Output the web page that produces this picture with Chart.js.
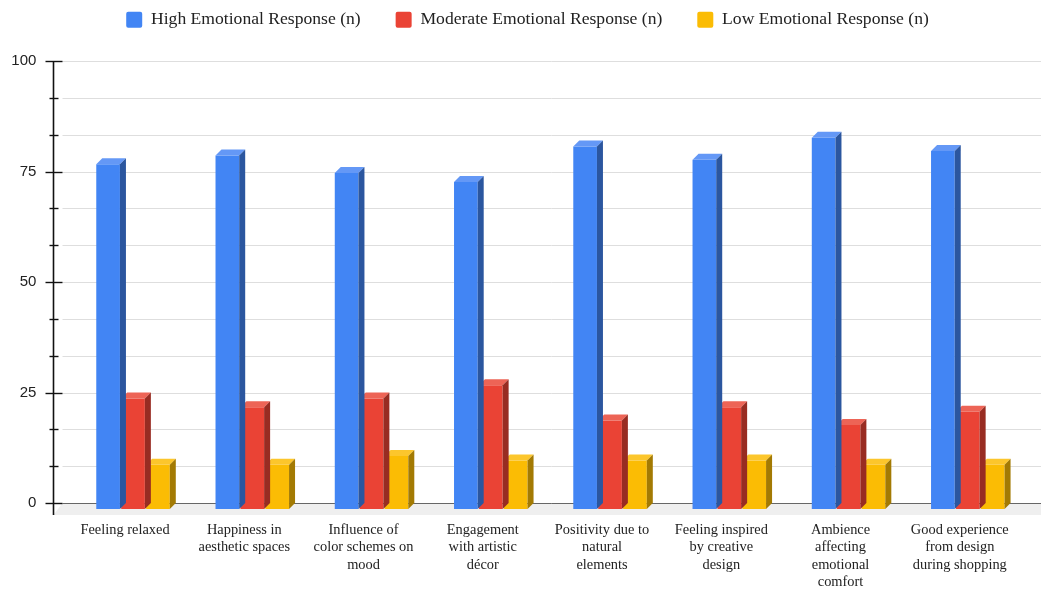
<!DOCTYPE html>
<html>
<head>
<meta charset="utf-8">
<script src="https://cdn.jsdelivr.net/npm/chart.js@4.4.1/dist/chart.umd.min.js"></script>
<style>
  html, body { margin: 0; padding: 0; background: #fff; }
</style>
</head>
<body>
<canvas id="myChart" width="1041" height="590"></canvas>
<script>
var labels = [
    'Feeling relaxed',
    ['Happiness in', 'aesthetic spaces'],
    ['Influence of', 'color schemes on', 'mood'],
    ['Engagement', 'with artistic', 'décor'],
    ['Positivity due to', 'natural', 'elements'],
    ['Feeling inspired', 'by creative', 'design'],
    ['Ambience', 'affecting', 'emotional', 'comfort'],
    ['Good experience', 'from design', 'during shopping']
];
var highResponse = [78, 80, 76, 74, 82, 79, 84, 81];
var moderateResponse = [25, 23, 25, 28, 20, 23, 19, 22];
var lowResponse = [10, 10, 12, 11, 11, 11, 10, 10];
var yLabelValues = [0, 25, 50, 75, 100];

var DEPTH = 6;       // how far the bar front sits left/down of its back face
var FLOOR_DY = 12;   // floor strip under the zero line
var FLOOR_DX = 9;

function isLabelled(v) {
    return yLabelValues.some(function(l) { return Math.abs(l - v) < 0.01; });
}

function fillPoly(ctx, pts, color) {
    ctx.fillStyle = color;
    ctx.beginPath();
    ctx.moveTo(pts[0][0], pts[0][1]);
    for (var i = 1; i < pts.length; i++) ctx.lineTo(pts[i][0], pts[i][1]);
    ctx.closePath();
    ctx.fill();
}

// floor, grid, axis and 3D bar faces
var depthPlugin = {
    id: 'depth',
    afterLayout: function(chart) {
        // nudge the legend row up and slightly right
        var lg = chart.legend;
        lg.top -= 29;
        lg.bottom -= 29;
        lg.left += 9;
        lg.right += 9;
    },
    beforeDatasetsDraw: function(chart) {
        var ctx = chart.ctx;
        var area = chart.chartArea;
        var y = chart.scales.y;
        var axisX = Math.round(area.left - 26) + 0.5;
        var gridLeft = axisX + FLOOR_DX;
        var zero = y.getPixelForValue(0);

        ctx.save();
        fillPoly(ctx, [[gridLeft, zero], [chart.width, zero],
            [chart.width, zero + FLOOR_DY], [axisX, zero + FLOOR_DY]], '#efefef');

        ctx.lineWidth = 1;
        y.ticks.forEach(function(t) {
            var py = Math.round(y.getPixelForValue(t.value)) + 0.5;
            ctx.strokeStyle = t.value === 0 ? '#666' : '#dedede';
            ctx.beginPath();
            ctx.moveTo(gridLeft, py);
            ctx.lineTo(chart.width, py);
            ctx.stroke();
        });

        ctx.strokeStyle = '#111';
        ctx.lineWidth = 1.6;
        ctx.beginPath();
        ctx.moveTo(axisX, y.getPixelForValue(100));
        ctx.lineTo(axisX, zero + FLOOR_DY);
        ctx.stroke();
        ctx.lineWidth = 1.4;
        y.ticks.forEach(function(t) {
            var py = Math.round(y.getPixelForValue(t.value)) + 0.5;
            var big = isLabelled(t.value);
            ctx.beginPath();
            ctx.moveTo(axisX - (big ? 8 : 4), py);
            ctx.lineTo(axisX + (big ? 9 : 5), py);
            ctx.stroke();
        });
        ctx.restore();
    },
    beforeDatasetDraw: function(chart, args) {
        var ds = chart.data.datasets[args.index];
        var ctx = chart.ctx;
        var d = DEPTH;
        ctx.save();
        args.meta.data.forEach(function(bar) {
            var p = bar.getProps(['x', 'y', 'base', 'width'], true);
            var l = p.x - p.width / 2, r = p.x + p.width / 2;
            var top = p.y, bot = p.base;
            fillPoly(ctx, [[l - d, top + d], [r - d, top + d], [r - d, bot + d], [l - d, bot + d]], ds.backgroundColor);
            fillPoly(ctx, [[l - d, top + d], [r - d, top + d], [r, top], [l, top]], ds.topColor);
            fillPoly(ctx, [[r - d, top + d], [r, top], [r, bot], [r - d, bot + d]], ds.sideColor);
        });
        ctx.restore();
        return false;
    }
};

var ctx = document.getElementById('myChart').getContext('2d');
var myChart = new Chart(ctx, {
    type: 'bar',
    data: {
        labels: labels,
        datasets: [{
            label: 'High Emotional Response (n)',
            data: highResponse,
            backgroundColor: '#4285f4',
            topColor: '#6498f6',
            sideColor: '#2b569f'
        }, {
            label: 'Moderate Emotional Response (n)',
            data: moderateResponse,
            backgroundColor: '#ea4335',
            topColor: '#ed6456',
            sideColor: '#982c22'
        }, {
            label: 'Low Emotional Response (n)',
            data: lowResponse,
            backgroundColor: '#fbbc04',
            topColor: '#fcc62c',
            sideColor: '#a37a03'
        }]
    },
    options: {
        responsive: false,
        animation: false,
        devicePixelRatio: 1,
        categoryPercentage: 0.627,
        barPercentage: 0.95,
        layout: { padding: { top: 0, left: 0, right: 4, bottom: 0 } },
        plugins: {
            legend: {
                position: 'top',
                maxHeight: 56,
                labels: {
                    boxWidth: 16,
                    boxHeight: 16,
                    padding: 35,
                    useBorderRadius: true,
                    borderRadius: 2,
                    color: '#222',
                    font: { family: 'Liberation Serif', size: 17.6 }
                }
            },
            tooltip: { enabled: false }
        },
        scales: {
            x: {
                grid: { display: false, drawTicks: false },
                border: { display: false },
                ticks: {
                    autoSkip: false,
                    maxRotation: 0,
                    padding: 18,
                    labelOffset: -14,
                    color: '#222',
                    font: { family: 'Liberation Serif', size: 14.4, lineHeight: 1.22 }
                },
                afterFit: function(scale) { scale.height = 87; }
            },
            y: {
                min: 0,
                max: 100,
                grid: { display: false, drawTicks: false },
                border: { display: false },
                ticks: {
                    stepSize: 100 / 12,
                    autoSkip: false,
                    padding: 43,
                    color: '#222',
                    font: { family: 'Liberation Sans', size: 15 },
                    callback: function(v) { return isLabelled(v) ? Math.round(v) : ''; }
                },
                afterFit: function(scale) {
                    scale.width = 79.4;
                    scale.paddingTop = 61;
                }
            }
        }
    },
    plugins: [depthPlugin]
});
</script>
</body>
</html>
